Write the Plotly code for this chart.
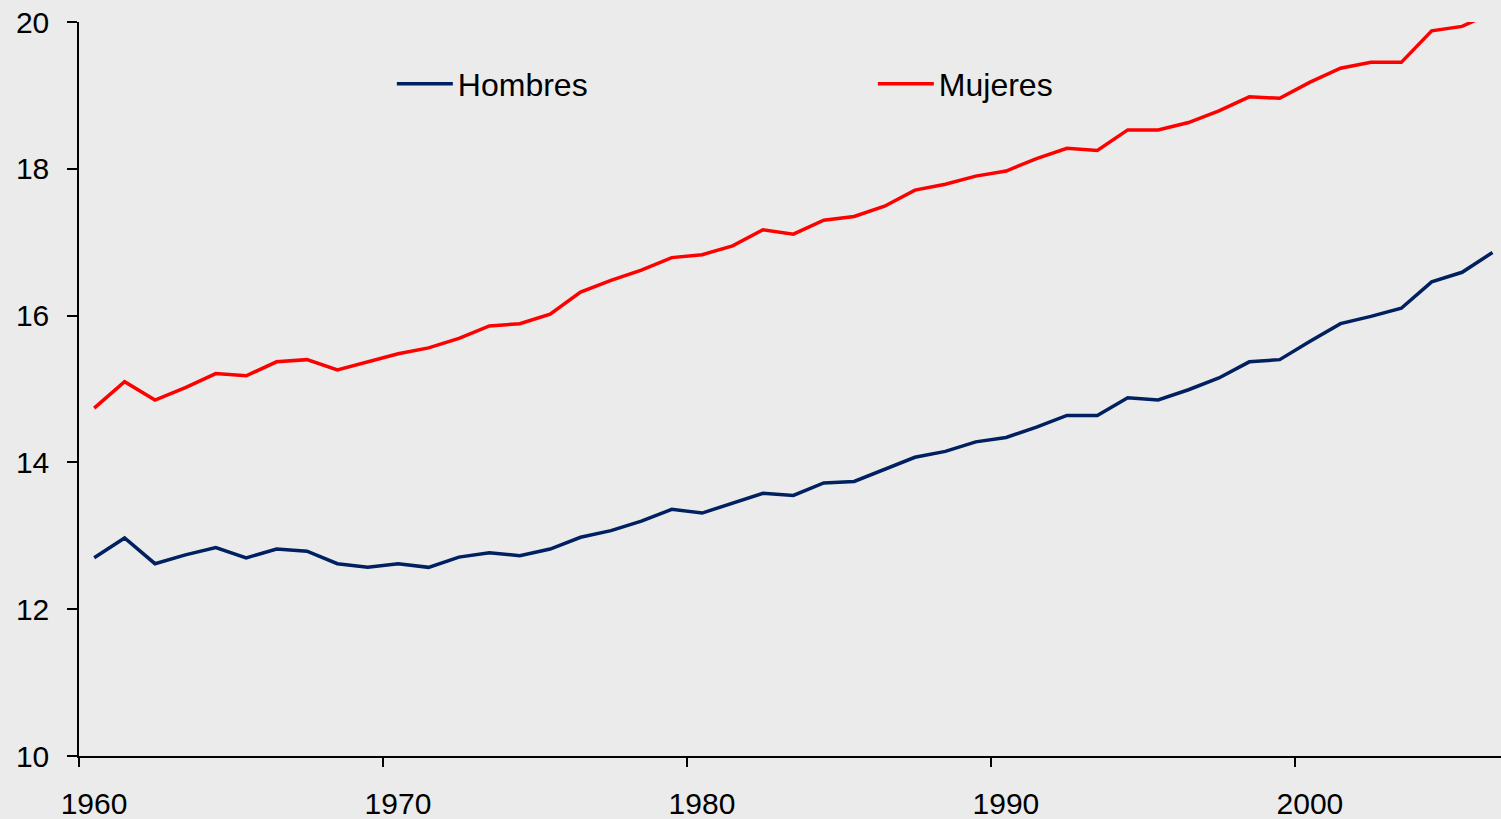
import plotly.graph_objects as go

years = list(range(1960, 2007))
# points are drawn at the middle of each year (category-style axis)
x_pos = [y + 0.5 for y in years]

hombres = [12.70, 12.97, 12.62, 12.74, 12.84, 12.70, 12.82, 12.79, 12.62, 12.57,
           12.62, 12.57, 12.71, 12.77, 12.73, 12.82, 12.98, 13.07, 13.20, 13.36,
           13.31, 13.45, 13.58, 13.55, 13.72, 13.74, 13.90, 14.07, 14.15, 14.28,
           14.34, 14.48, 14.64, 14.64, 14.88, 14.85, 14.99, 15.15, 15.37, 15.40,
           15.65, 15.89, 15.99, 16.10, 16.46, 16.59, 16.86]

mujeres = [14.74, 15.10, 14.85, 15.02, 15.21, 15.18, 15.37, 15.40, 15.26, 15.37,
           15.48, 15.56, 15.69, 15.86, 15.89, 16.02, 16.32, 16.48, 16.62, 16.79,
           16.83, 16.95, 17.17, 17.11, 17.30, 17.35, 17.49, 17.71, 17.79, 17.90,
           17.97, 18.14, 18.28, 18.25, 18.53, 18.53, 18.63, 18.79, 18.98, 18.96,
           19.18, 19.37, 19.45, 19.45, 19.88, 19.94, 20.13]

x_ticks = [1960, 1970, 1980, 1990, 2000]
y_ticks = [10, 12, 14, 16, 18, 20]

BG = "#EBEBEB"
FONT = "Liberation Sans, Arial, sans-serif"

fig = go.Figure()
fig.add_trace(go.Scatter(x=x_pos, y=hombres, mode="lines", name="Hombres",
                         line=dict(color="#002060", width=3.5)))
fig.add_trace(go.Scatter(x=x_pos, y=mujeres, mode="lines", name="Mujeres",
                         line=dict(color="#FF0000", width=3.5)))

fig.update_layout(
    width=1501, height=819,
    margin=dict(l=79, r=0, t=22, b=63, pad=0, autoexpand=False),
    paper_bgcolor=BG, plot_bgcolor=BG,
    font=dict(family=FONT, size=30, color="black"),
    showlegend=True,
    legend=dict(orientation="h", x=0.22, y=0.9155, xanchor="left", yanchor="middle",
                bgcolor="rgba(0,0,0,0)", font=dict(size=32, family=FONT),
                itemwidth=56, entrywidth=410, entrywidthmode="pixels",
                tracegroupgap=0),
)
fig.update_xaxes(range=[1960, 2006.78], tickvals=x_ticks, ticktext=[str(v) for v in x_ticks],
                 showgrid=False, zeroline=False, showline=True, linecolor="black", linewidth=1.5,
                 ticks="outside", ticklen=9, tickwidth=1.5, tickcolor="black",
                 ticklabelshift=15, ticklabelstandoff=11,
                 tickfont=dict(size=30, family=FONT, color="black"))
fig.update_yaxes(range=[10, 20], tickvals=y_ticks, ticktext=[str(v) for v in y_ticks],
                 showgrid=False, zeroline=False, showline=True, linecolor="black", linewidth=1.5,
                 ticks="outside", ticklen=10, tickwidth=1.5, tickcolor="black",
                 ticklabelstandoff=12,
                 tickfont=dict(size=30, family=FONT, color="black"))

fig.write_html("out.html", config={"displayModeBar": False},
               post_script="document.body.style.margin='0';")
